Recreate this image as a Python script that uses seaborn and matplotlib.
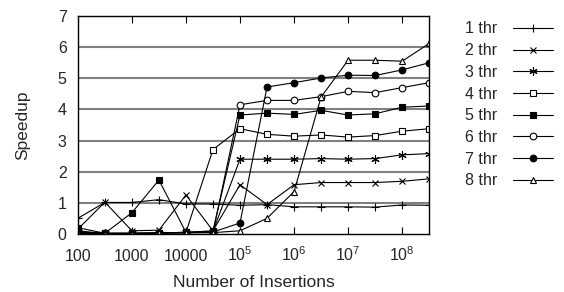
import pandas as pd
import numpy as np
import matplotlib
matplotlib.use("Agg")
import matplotlib.pyplot as plt
import seaborn as sns

sns.set_style("white")
plt.rcParams['font.family'] = ['Liberation Sans', 'DejaVu Sans']
plt.rcParams['mathtext.default'] = 'regular'

insertions = [100, 316, 1000, 3162, 10000, 31623, 100000, 316228,
              1000000, 3162278, 10000000, 31622777, 100000000, 316227766]

thr1 = [0.50, 1.01, 1.01, 1.10, 0.96, 0.96, 0.92, 0.94, 0.87, 0.87, 0.87, 0.86, 0.93, 0.92]
thr2 = [0.15, 1.02, 0.10, 0.12, 1.25, 0.10, 1.58, 0.94, 1.58, 1.65, 1.65, 1.65, 1.69, 1.77]
thr3 = [0.05, 0.02, 0.02, 0.03, 0.05, 0.08, 2.40, 2.40, 2.40, 2.42, 2.40, 2.42, 2.54, 2.58]
thr4 = [0.05, 0.02, 0.02, 0.03, 0.05, 2.71, 3.38, 3.20, 3.14, 3.18, 3.11, 3.16, 3.30, 3.38]
thr5 = [0.20, 0.02, 0.68, 1.73, 0.05, 0.10, 3.82, 3.88, 3.84, 3.97, 3.82, 3.86, 4.07, 4.11]
thr6 = [0.05, 0.02, 0.02, 0.03, 0.05, 0.05, 4.15, 4.29, 4.29, 4.41, 4.58, 4.54, 4.70, 4.86]
thr7 = [0.10, 0.01, 0.01, 0.02, 0.04, 0.06, 0.35, 4.72, 4.86, 5.01, 5.10, 5.09, 5.27, 5.50]
thr8 = [0.02, 0.01, 0.01, 0.02, 0.03, 0.04, 0.10, 0.50, 1.36, 4.40, 5.58, 5.58, 5.55, 6.12]

labels = ['1 thr', '2 thr', '3 thr', '4 thr', '5 thr', '6 thr', '7 thr', '8 thr']
series = [thr1, thr2, thr3, thr4, thr5, thr6, thr7, thr8]

markers = ['+', 'x', (6, 2, 0), 's', 's', 'o', 'o', '^']
faces = ['black', 'black', 'black', 'white', 'black', 'white', 'black', 'white']
sizes = [6, 5, 6, 4.5, 4.5, 4.8, 4.8, 4.5]

fig = plt.figure(figsize=(5.64, 2.92), dpi=100)
ax = fig.add_axes([0.138, 0.199, 0.623, 0.746])

for lab, vals, m, fc, ms in zip(labels, series, markers, faces, sizes):
    df = pd.DataFrame({'n': insertions, 'speedup': vals})
    sns.lineplot(data=df, x='n', y='speedup', ax=ax, color='black', lw=0.8,
                 marker=m, markerfacecolor=fc, markeredgecolor='black',
                 markeredgewidth=0.8, markersize=ms, label=lab)

ax.set_xscale('log')
ax.set_xlim(100, 316227766)
ax.set_ylim(0, 7)

ax.set_xticks([1e2, 1e3, 1e4, 1e5, 1e6, 1e7, 1e8])
ax.set_xticklabels(['100', '1000', '10000', '$10^5$', '$10^6$', '$10^7$', '$10^8$'])
ax.xaxis.set_minor_locator(matplotlib.ticker.NullLocator())
ax.set_yticks(range(0, 8))

ax.tick_params(axis='x', direction='in', length=5, width=0.8, top=True, bottom=True,
               labelsize=11.5, pad=19.5, color='black')
ax.tick_params(axis='y', direction='in', length=0, labelsize=11.5, pad=8)
for t in ax.get_xticklabels():
    t.set_verticalalignment('baseline')

for y in range(1, 7):
    ax.axhline(y, color='#808080', lw=1.5, zorder=0)

for s in ax.spines.values():
    s.set_color('black')
    s.set_linewidth(1.0)

ax.set_xlabel('Number of Insertions', fontsize=12.5, labelpad=8)
ax.set_ylabel('Speedup', fontsize=12.5, labelpad=20)

ax.legend(loc='upper right', bbox_to_anchor=(1.0, 0.965), bbox_transform=fig.transFigure,
          frameon=False, markerfirst=False, fontsize=11.5, handlelength=2.5,
          labelspacing=0.42, handletextpad=1.0, borderpad=0.2)

fig.savefig('out.png', dpi=100)
